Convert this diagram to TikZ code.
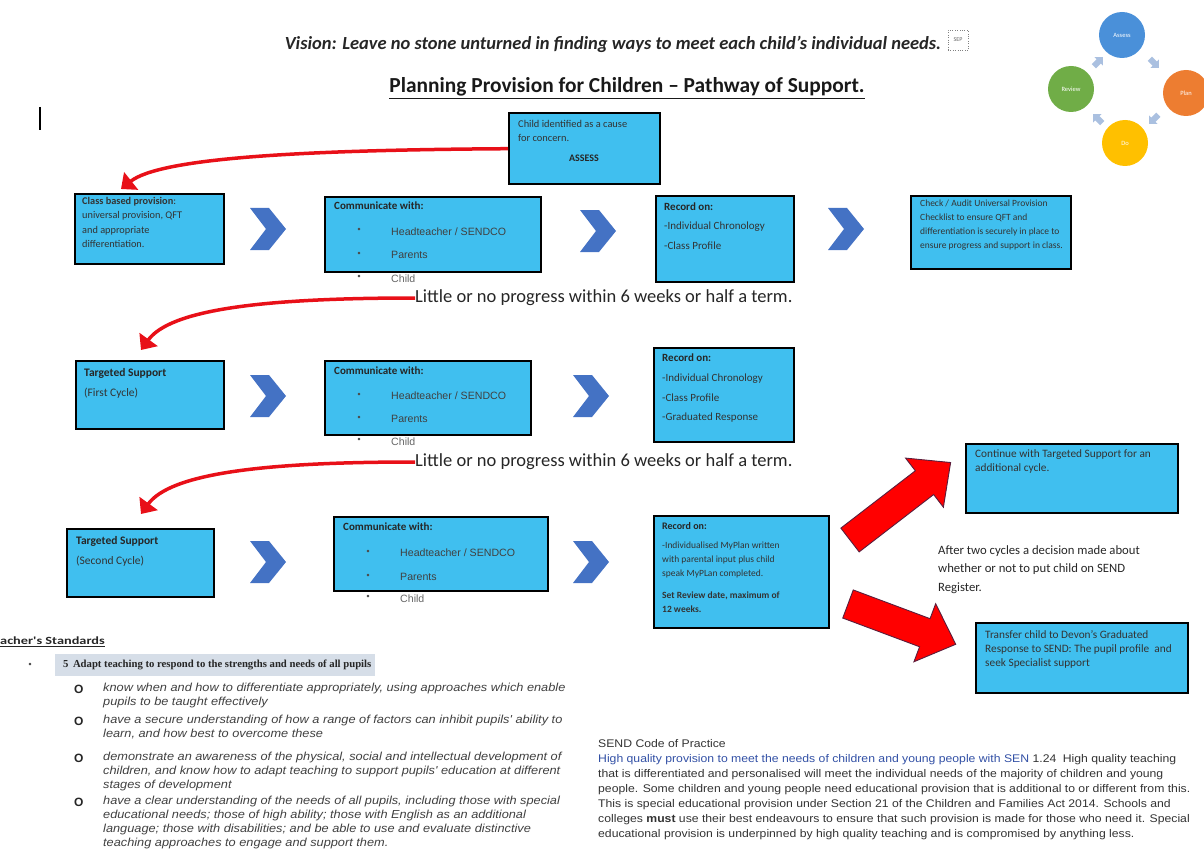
\documentclass[tikz,border=0pt]{standalone}
\usepackage{fontspec}
\setmainfont{Carlito}
\newfontfamily\carlw[FakeStretch=1.3]{Carlito}
\newfontfamily\arialf{Liberation Sans}
\newfontfamily\arialw[FakeStretch=1.1]{Liberation Sans}
\newfontfamily\tnrf{Liberation Serif}
\usetikzlibrary{arrows.meta}
\definecolor{boxblue}{RGB}{64,191,239}
\definecolor{chevblue}{RGB}{68,114,196}
\definecolor{arrred}{RGB}{232,16,24}
\definecolor{sendblue}{RGB}{50,80,165}
\definecolor{hlgray}{RGB}{214,222,232}
\definecolor{cassess}{RGB}{74,144,217}
\definecolor{cplan}{RGB}{237,125,49}
\definecolor{creview}{RGB}{112,173,71}
\definecolor{cdo}{RGB}{255,192,0}
\definecolor{csmall}{RGB}{170,192,224}
\definecolor{arrline}{RGB}{90,30,60}
\begin{document}
\begin{tikzpicture}[x=1pt,y=-1pt,
  box/.style={draw=black, line width=2.4pt, fill=boxblue, inner sep=0pt, anchor=north west},
  btxt/.style={anchor=north west, inner sep=0pt, align=left, text=black!80, font=\fontsize{9.5}{14}\selectfont},
  ltxt/.style={anchor=west, inner sep=0pt, text=black!80, font=\fontsize{11}{12}\selectfont},
  hb/.style={anchor=west, inner sep=0pt, text=black!85, font=\bfseries\fontsize{11}{12}\selectfont},
  htxt/.style={anchor=west, inner sep=0pt, text=black!75, font=\arialf\fontsize{10.6}{12}\selectfont},
  bul/.style={anchor=center, inner sep=0pt, text=black!70, font=\fontsize{7}{8}\selectfont},
  little/.style={anchor=west, inner sep=0pt, text=black!85, font=\fontsize{18.5}{20}\selectfont},
  redarrow/.style={draw=arrred, line width=3.5pt, -{Triangle[length=13pt,width=22pt]}},
  bigarr/.style={draw=arrline, line width=0.9pt, fill=red, line join=miter},
  cyc/.style={circle, minimum size=46, inner sep=0pt, text=white, font=\fontsize{6.5}{7}\selectfont},
  itm/.style={anchor=north west, inner sep=0pt, align=left, text=black!75, font=\arialw\itshape\fontsize{11.6}{13.8}\selectfont},
  obul/.style={anchor=west, inner sep=0pt, text=black!85, font=\arialf\bfseries\fontsize{12}{13}\selectfont},
  chev/.pic={\fill[chevblue] (0,0) -- (19,0) -- (36,21) -- (19,42) -- (0,42) -- (16,21) -- cycle;},
  smarr/.pic={\fill[csmall] (-6,-3) -- (1,-3) -- (1,-6) -- (7,0) -- (1,6) -- (1,3) -- (-6,3) -- cycle;}
]
\useasboundingbox (0,0) rectangle (1204,853);

% ---- header ----
\node[inner sep=0pt, text=black!85, font=\bfseries\itshape\fontsize{18.5}{20}\selectfont] (vision) at (613,44)
  {Vision: Leave no stone unturned in finding ways to meet each child's individual needs.};
\node[draw=black!50, dotted, minimum width=20, minimum height=20, inner sep=0pt, text=black!60, font=\fontsize{6}{7}\selectfont] (sep) at (958,40) {SEP};
\node[inner sep=0pt, text=black!90, font=\bfseries\fontsize{21.4}{23}\selectfont] (title) at (627,88)
  {\underline{Planning Provision for Children -- Pathway of Support.}};
\draw[line width=1.6pt] (40,107) -- (40,130);

% ---- cycle ----
\node[cyc, fill=cassess] (cA) at (1122,35) {Assess};
\node[cyc, fill=cplan] (cP) at (1186,93) {Plan};
\node[cyc, fill=cdo] (cD) at (1125,143) {Do};
\node[cyc, fill=creview] (cR) at (1071,89) {Review};
\pic[rotate=-45] at (1154,63) {smarr};
\pic[rotate=-135] at (1154,119) {smarr};
\pic[rotate=135] at (1098,119) {smarr};
\pic[rotate=45] at (1098,62) {smarr};

% ---- row 1 ----
\node[box, minimum width=151, minimum height=71] (ca) at (508,112) {};
\node[btxt, font=\fontsize{10.4}{14}\selectfont] (caT) at (518,120) {Child identified as a cause\\for concern.};
\node[hb, anchor=center, font=\bfseries\fontsize{10}{11}\selectfont] (caA) at (584,158) {ASSESS};

\node[box, minimum width=149, minimum height=70] (cbp) at (74,193) {};
\node[btxt, font=\fontsize{10.3}{14.3}\selectfont] (cbpT) at (82,197) {\textbf{Class based provision}:\\universal provision, QFT\\and appropriate\\differentiation.};

\node[box, minimum width=216, minimum height=75] (com1) at (324,196) {};
\node[hb] (com1h) at (334,206) {Communicate with:};
\node[bul] (b11) at (359,230) {•}; \node[htxt] (h1) at (391,232) {Headteacher / SENDCO};
\node[bul] (b12) at (359,254) {•}; \node[htxt] (p1) at (391,255) {Parents};
\node[bul] (b13) at (359,277) {•}; \node[htxt, text=black!60] (c1) at (391,279) {Child};

\node[box, minimum width=138, minimum height=86] (rec1) at (655,195) {};
\node[hb] (rec1h) at (664,207) {Record on:};
\node[ltxt] (rec1a) at (664,227) {-Individual Chronology};
\node[ltxt] (rec1b) at (664,246) {-Class Profile};

\node[box, minimum width=160, minimum height=73] (chk) at (910,195) {};
\node[btxt] (chkT) at (920,200) {Check / Audit Universal Provision\\Checklist to ensure QFT and\\differentiation is securely in place to\\ensure progress and support in class.};

\pic at (250,208) {chev};
\pic at (580,210) {chev};
\pic at (828,208) {chev};

\draw[redarrow] (ca.west) .. controls (300,150) and (160,158) .. (121,189);

\node[little] (lit1) at (415,298) {Little or no progress within 6 weeks or half a term.};

% ---- row 2 ----
\node[box, minimum width=148, minimum height=68] (ts1) at (75,360) {};
\node[hb, font=\bfseries\fontsize{11.5}{12}\selectfont] (ts1h) at (84,373) {Targeted Support};
\node[ltxt, font=\fontsize{11.5}{12}\selectfont] (ts1b) at (84,393) {(First Cycle)};

\node[box, minimum width=206, minimum height=74] (com2) at (324,360) {};
\node[hb] (com2h) at (334,371) {Communicate with:};
\node[bul] (b21) at (359,395) {•}; \node[htxt] (h2) at (391,396) {Headteacher / SENDCO};
\node[bul] (b22) at (359,418) {•}; \node[htxt] (p2) at (391,419) {Parents};
\node[bul] (b23) at (359,440) {•}; \node[htxt, text=black!60] (c2) at (391,442) {Child};

\node[box, minimum width=140, minimum height=94] (rec2) at (653,347) {};
\node[hb] (rec2h) at (662,358) {Record on:};
\node[ltxt] (rec2a) at (662,379) {-Individual Chronology};
\node[ltxt] (rec2b) at (662,398) {-Class Profile};
\node[ltxt] (rec2c) at (662,418) {-Graduated Response};

\pic at (250,375) {chev};
\pic at (573,375) {chev};

\draw[redarrow] (lit1.west) .. controls (260,298) and (170,310) .. (141,350);

\node[little] (lit2) at (415,462) {Little or no progress within 6 weeks or half a term.};

% ---- row 3 ----
\node[box, minimum width=147, minimum height=68] (ts2) at (66,528) {};
\node[hb, font=\bfseries\fontsize{11.5}{12}\selectfont] (ts2h) at (76,541) {Targeted Support};
\node[ltxt, font=\fontsize{11.5}{12}\selectfont] (ts2b) at (76,561) {(Second Cycle)};

\node[box, minimum width=214, minimum height=74] (com3) at (333,516) {};
\node[hb] (com3h) at (343,527) {Communicate with:};
\node[bul] (b31) at (368,552) {•}; \node[htxt] (h3) at (400,553) {Headteacher / SENDCO};
\node[bul] (b32) at (368,576) {•}; \node[htxt] (p3) at (400,577) {Parents};
\node[bul] (b33) at (368,597) {•}; \node[htxt, text=black!60] (c3) at (400,599) {Child};

\node[box, minimum width=175, minimum height=112] (rec3) at (653,515) {};
\node[hb, font=\bfseries\fontsize{10}{11}\selectfont] (rec3h) at (662,526) {Record on:};
\node[btxt] (rec3T) at (662,542) {-Individualised MyPlan written\\with parental input plus child\\speak MyPLan completed.};
\node[btxt, font=\bfseries\fontsize{9.5}{14}\selectfont] (rec3S) at (662,592) {Set Review date, maximum of\\12 weeks.};

\pic at (250,541) {chev};
\pic at (573,541) {chev};

\draw[redarrow] (lit2.west) .. controls (260,462) and (170,474) .. (141,514);

\node[box, minimum width=212, minimum height=69] (cont) at (965,443) {};
\node[btxt, font=\fontsize{11.3}{14}\selectfont] (contT) at (975,449) {Continue with Targeted Support for an\\additional cycle.};

\node[box, minimum width=212, minimum height=70] (trans) at (975,622) {};
\node[btxt, font=\fontsize{11.3}{14}\selectfont] (transT) at (985,630) {Transfer child to Devon's Graduated\\Response to SEND: The pupil profile~ and\\seek Specialist support};

\node[anchor=north west, inner sep=0pt, align=left, text=black!85, font=\fontsize{12.7}{18.5}\selectfont] (after) at (938,545)
  {After two cycles a decision made about\\whether or not to put child on SEND\\Register.};

% block arrows (tail at origin, pointing along x)
\draw[bigarr, shift={(850,540)}, rotate=37.6] (0,-15) -- (94,-15) -- (94,-31) -- (127,0) -- (94,31) -- (94,15) -- (0,15) -- cycle;
\draw[bigarr, shift={(848,604)}, rotate=-20.5] (0,-15) -- (82,-15) -- (82,-31) -- (115,0) -- (82,31) -- (82,15) -- (0,15) -- cycle;

% ---- teacher's standards ----
\node[anchor=west, inner sep=0pt, text=black!85, font=\carlw\bfseries\fontsize{11}{13}\selectfont] (ts) at (0,642) {\underline{acher's Standards}};
\fill[hlgray] (55,654) rectangle (375,676);
\node[bul] (tsb) at (30,665) {•};
\node[anchor=west, inner sep=0pt, text=black!85, font=\tnrf\bfseries\fontsize{10.7}{12}\selectfont] (std5) at (63,665)
  {5\, Adapt teaching to respond to the strengths and needs of all pupils};
\node[obul] (o1) at (74,689) {O};
\node[obul] (o2) at (74,721) {O};
\node[obul] (o3) at (74,758) {O};
\node[obul] (o4) at (74,802) {O};
\node[itm] (i1) at (103,683) { know when and how to differentiate appropriately, using approaches which enable\\pupils to be taught effectively};
\node[itm] (i2) at (103,715) {have a secure understanding of how a range of factors can inhibit pupils' ability to\\learn, and how best to overcome these};
\node[itm] (i3) at (103,752) {demonstrate an awareness of the physical, social and intellectual development of\\children, and know how to adapt teaching to support pupils' education at different\\stages of development};
\node[itm] (i4) at (103,796) {have a clear understanding of the needs of all pupils, including those with special\\educational needs; those of high ability; those with English as an additional\\language; those with disabilities; and be able to use and evaluate distinctive\\teaching approaches to engage and support them.};

% ---- SEND code ----
\node[anchor=north west, inner sep=0pt, align=left, text=black!80, font=\arialw\fontsize{11.1}{15}\selectfont] (send) at (598,739)
  {SEND Code of Practice\\
  {\color{sendblue}High quality provision to meet the needs of children and young people with SEN} 1.24\; High quality teaching\\
  that is differentiated and personalised will meet the individual needs of the majority of children and young\\
  people. Some children and young people need educational provision that is additional to or different from this.\\
  This is special educational provision under Section 21 of the Children and Families Act 2014. Schools and\\
  colleges \textbf{must} use their best endeavours to ensure that such provision is made for those who need it. Special\\
  educational provision is underpinned by high quality teaching and is compromised by anything less.};
\end{tikzpicture}
\end{document}
